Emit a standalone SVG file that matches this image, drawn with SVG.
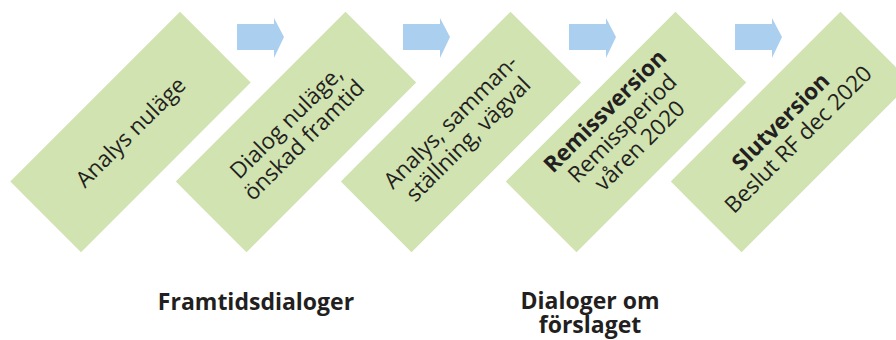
<svg xmlns="http://www.w3.org/2000/svg" width="896" height="340" viewBox="0 0 896 340">
<style>
.box{fill:#d1e3b1}
.arr{fill:#abcfee}
.t{font-family:"Open Sans","Noto Sans",sans-serif;font-size:22.5px;fill:#231f20;text-anchor:middle}
.b{font-weight:bold}
.lbl{font-family:"Open Sans","Noto Sans",sans-serif;font-size:23px;font-weight:bold;fill:#231f20;text-anchor:middle}
</style>
<defs>
<path id="arrow" class="arr" d="M0,6 H37 V0 L47,19 L37,40 V32 H0 Z"/>
</defs>
<g id="connectors">
<use href="#arrow" x="237" y="18"/>
<use href="#arrow" x="403" y="18"/>
<use href="#arrow" x="569" y="18"/>
<use href="#arrow" x="735" y="18"/>
</g>
<g id="n1" transform="translate(130.5,132) rotate(-45)">
<rect class="box" x="-120" y="-50" width="240" height="100"/>
<text class="t" x="0" y="8">Analys nuläge</text>
</g>
<g id="n2" transform="translate(296,132) rotate(-45)">
<rect class="box" x="-120" y="-50" width="240" height="100"/>
<text class="t" x="0" y="-6">Dialog nuläge,</text>
<text class="t" x="0" y="19">önskad framtid</text>
</g>
<g id="n3" transform="translate(461,132) rotate(-45)">
<rect class="box" x="-120" y="-50" width="240" height="100"/>
<text class="t" x="0" y="-7">Analys, samman-</text>
<text class="t" x="0" y="18">ställning, vägval</text>
</g>
<g id="n4" transform="translate(626,132) rotate(-45)">
<rect class="box" x="-120" y="-50" width="240" height="100"/>
<text class="t b" x="0" y="-22">Remissversion</text>
<text class="t" x="0" y="2.5">Remissperiod</text>
<text class="t" x="0" y="27">våren 2020</text>
</g>
<g id="n5" transform="translate(791,132) rotate(-45)">
<rect class="box" x="-120" y="-50" width="240" height="100"/>
<text class="t b" x="0" y="-7">Slutversion</text>
<text class="t" x="0" y="18">Beslut RF dec 2020</text>
</g>
<g id="g1"><text class="lbl" x="256" y="310">Framtidsdialoger</text></g>
<g id="g2"><text class="lbl" x="590" y="309">Dialoger om<tspan x="590" y="333">förslaget</tspan></text></g>
</svg>
